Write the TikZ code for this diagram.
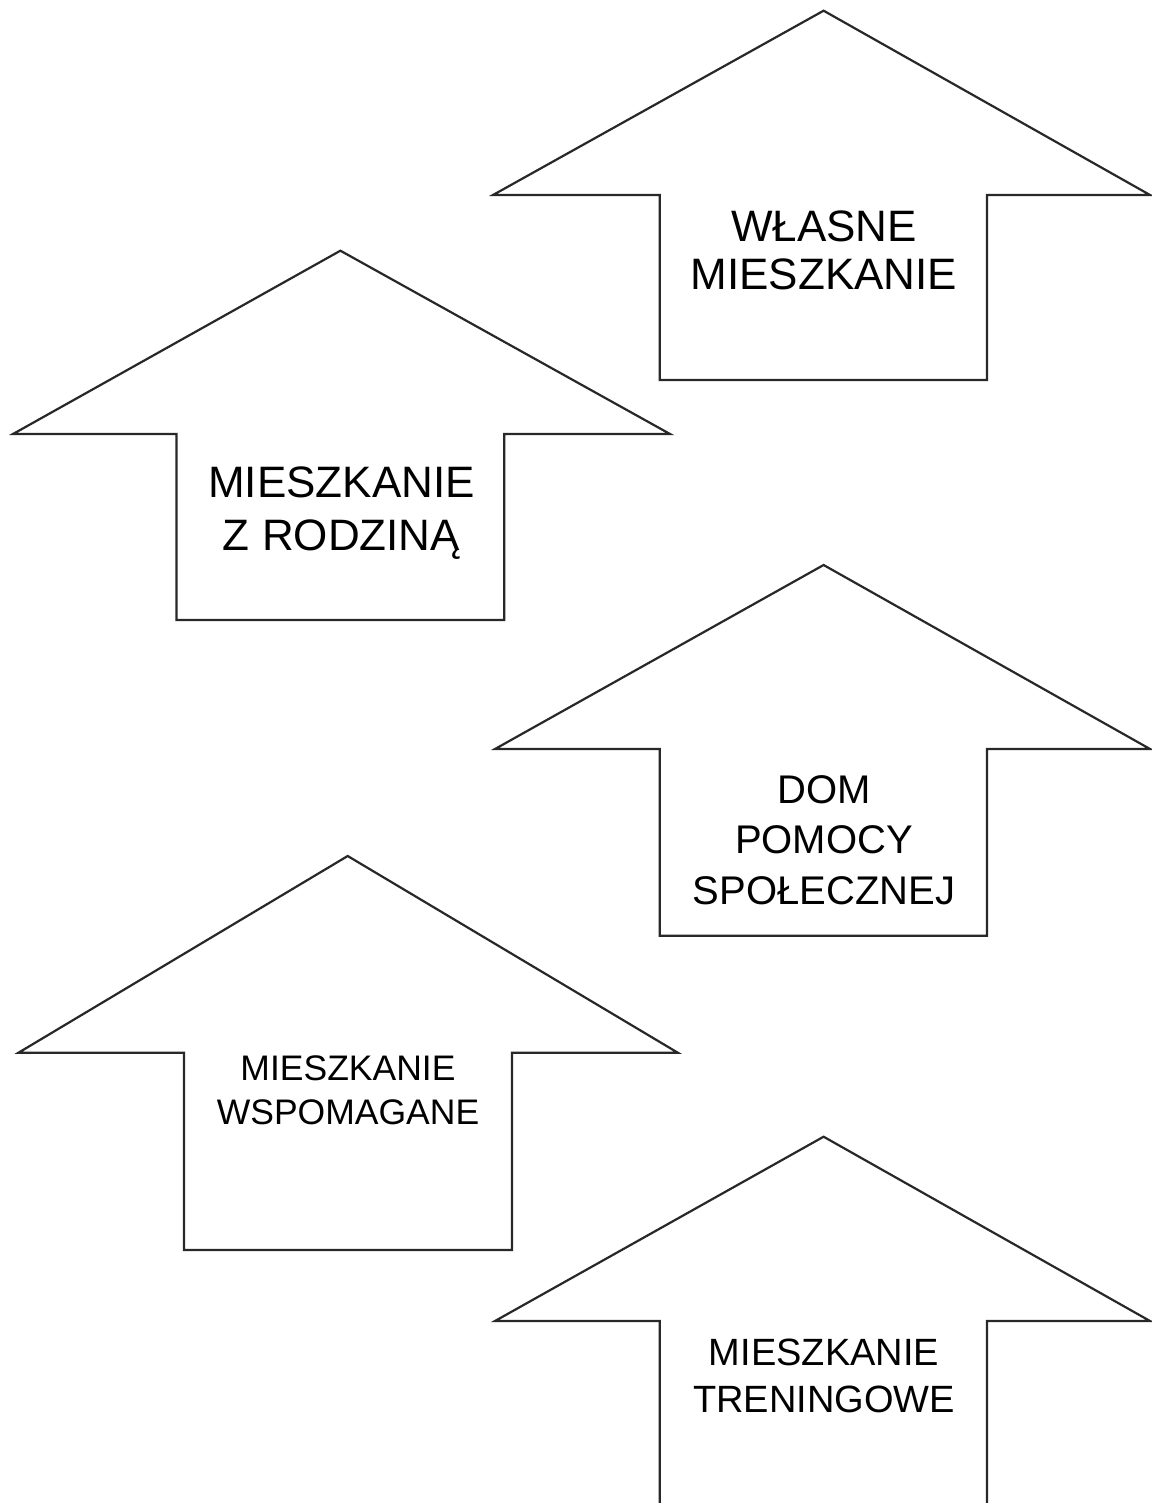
\documentclass[tikz,border=0pt]{standalone}
\usepackage{fontspec}
\setmainfont{Liberation Sans}
\definecolor{edge}{RGB}{40,40,40}
\tikzset{
  arrowshape/.style={draw=edge, line width=2.2pt, line join=miter, fill=white},
  lbl/.style={anchor=base, align=center, inner sep=0pt, text=black},
}
\begin{document}
\begin{tikzpicture}[x=1pt,y=-1pt]
\useasboundingbox (0,0) rectangle (1151,1503);
% arrow 1
\draw[arrowshape] (823.6,10.7) -- (1150,195) -- (987,195) -- (987,380) -- (659.7,380) -- (659.7,195) -- (493,195) -- cycle;
\node[lbl, font=\fontsize{44}{48}\selectfont] (a1) at (824,290) {WŁASNE\\MIESZKANIE};
% arrow 2
\draw[arrowshape] (340.4,250.7) -- (670,434) -- (504.3,434) -- (504.3,620) -- (176.5,620) -- (176.5,434) -- (13,434) -- cycle;
\node[lbl, font=\fontsize{44}{53}\selectfont] (a2) at (341.5,550) {MIESZKANIE\\Z RODZINĄ};
% arrow 3
\draw[arrowshape] (823.6,565) -- (1150,749) -- (987,749) -- (987,935.7) -- (659.7,935.7) -- (659.7,749) -- (495,749) -- cycle;
\node[lbl, font=\fontsize{40}{50.5}\selectfont] (a3) at (824,904) {DOM\\POMOCY\\SPOŁECZNEJ};
% arrow 4
\draw[arrowshape] (347.7,856) -- (677.8,1052.7) -- (511.9,1052.7) -- (511.9,1250) -- (184,1250) -- (184,1052.7) -- (18.5,1052.7) -- cycle;
\node[lbl, font=\fontsize{35.5}{44}\selectfont] (a4) at (348,1124.5) {MIESZKANIE\\WSPOMAGANE};
% arrow 5 (cut off at the bottom)
\draw[arrowshape] (659.7,1504) -- (659.7,1321) -- (495,1321) -- (823.6,1136.7) -- (1150,1321) -- (987,1321) -- (987,1504);
\node[lbl, font=\fontsize{38}{47.7}\selectfont] (a5) at (824,1412.7) {MIESZKANIE\\TRENINGOWE};
\end{tikzpicture}
\end{document}
